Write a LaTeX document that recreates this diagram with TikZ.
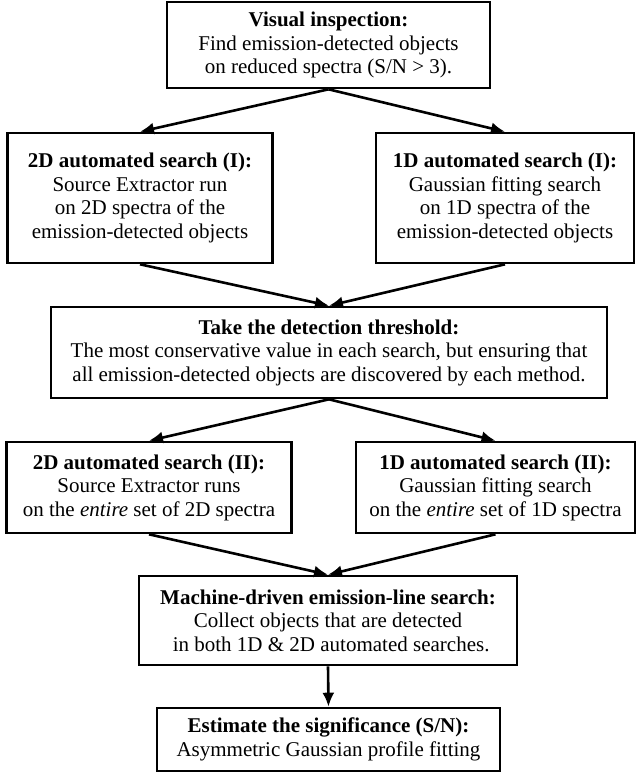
\documentclass[tikz,border=0pt]{standalone}
\usepackage{fontspec}
\setmainfont{Liberation Serif}
\usetikzlibrary{arrows.meta}
\begin{document}
\begin{tikzpicture}[x=1pt,y=-1pt,
  box/.style={draw=black, line width=2.6pt, fill=white, align=center, inner sep=0pt,
    font=\fontsize{21}{23.5}\selectfont},
  arr/.style={line width=2.6pt, -{Latex[length=14pt,width=12pt]}}]
\useasboundingbox (0,0) rectangle (636,772);
\node[box, minimum width=323pt, minimum height=86pt] (b1) at (328.5,45)
  {\textbf{Visual inspection:}\\Find emission-detected objects\\on reduced spectra (S/N > 3).};
\node[box, minimum width=265pt, minimum height=130pt] (b2) at (140,198)
  {\textbf{2D automated search (I):}\\Source Extractor run\\on 2D spectra of the\\emission-detected objects};
\node[box, minimum width=258pt, minimum height=130pt] (b3) at (505,198)
  {\textbf{1D automated search (I):}\\Gaussian fitting search\\on 1D spectra of the\\emission-detected objects};
\node[box, minimum width=556pt, minimum height=91pt] (b4) at (329,352.5)
  {\textbf{Take the detection threshold:}\\The most conservative value in each search, but ensuring that\\all emission-detected objects are discovered by each method.};
\node[box, minimum width=285pt, minimum height=91pt] (b5) at (149,487.5)
  {\textbf{2D automated search (II):}\\Source Extractor runs\\on the \textit{entire} set of 2D spectra};
\node[box, minimum width=279pt, minimum height=91pt] (b6) at (495.5,487.5)
  {\textbf{1D automated search (II):}\\Gaussian fitting search\\on the \textit{entire} set of 1D spectra};
\node[box, minimum width=378pt, minimum height=89pt] (b7) at (328,620.5)
  {\textbf{Machine-driven emission-line search:}\\Collect objects that are detected\\\hspace*{0.3em}in both 1D \& 2D automated searches.};
\node[box, minimum width=343pt, minimum height=63pt] (b8) at (328.5,739.5)
  {\textbf{Estimate the significance (S/N):}\\Asymmetric Gaussian profile fitting};
\draw[arr] (b1.south) -- (b2.north);
\draw[arr] (b1.south) -- (b3.north);
\draw[arr] (b2.south) -- (b4.north);
\draw[arr] (b3.south) -- (b4.north);
\draw[arr] (b4.south) -- (b5.north);
\draw[arr] (b4.south) -- (b6.north);
\draw[arr] (b5.south) -- (b7.north);
\draw[arr] (b6.south) -- (b7.north);
\draw[arr] (b7.south) -- (b8.north);
\end{tikzpicture}
\end{document}
